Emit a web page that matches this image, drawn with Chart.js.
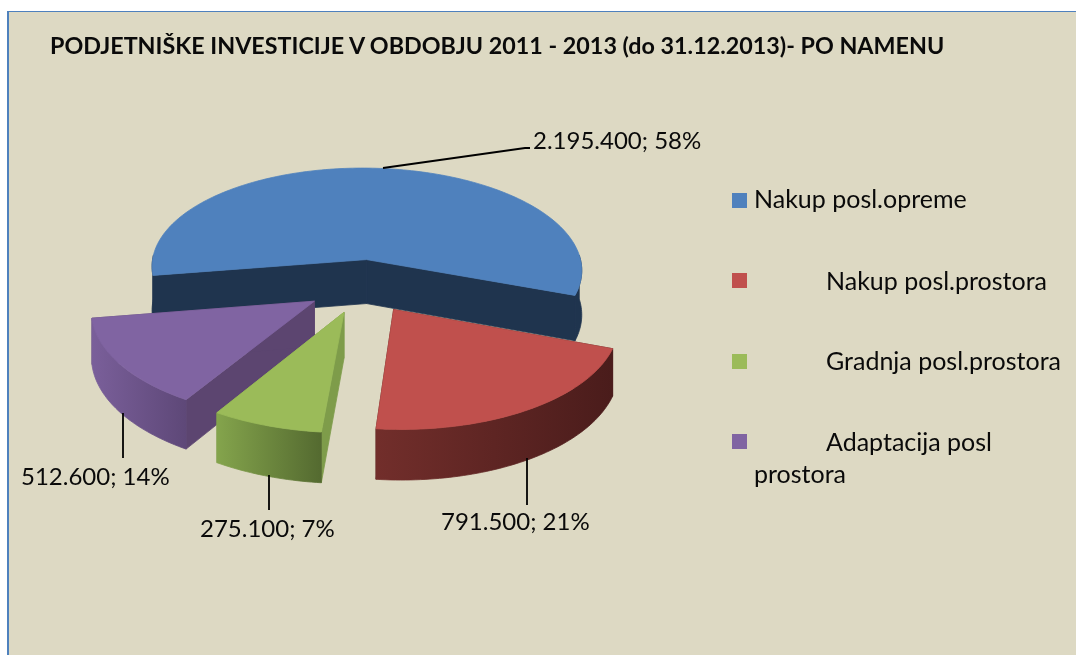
<!DOCTYPE html>
<html>
<head>
<meta charset="utf-8">
<title>Podjetniške investicije</title>
<script src="https://cdn.jsdelivr.net/npm/chart.js@4"></script>
<style>
    html, body { margin: 0; padding: 0; background: #fff; overflow: hidden; }
    #frame {
        position: absolute; left: 7px; top: 11px; width: 1069px; height: 644px;
        background: #DDD9C3; border-top: 1px solid #4F81BD; border-left: 2px solid #4F81BD;
        box-sizing: border-box;
    }
    canvas { position: absolute; left: 0; top: 0; }
    .txt { position: absolute; white-space: nowrap; color: #0a0a0a; font-family: Lato, sans-serif; line-height: 1; }
    #title { left: 50px; top: 34px; font-size: 23.3px; font-weight: 700; }
    .leg { font-size: 25px; }
    .swatch { position: absolute; width: 15px; height: 15px; }
</style>
</head>
<body>
<div id="frame"></div>
<canvas id="pie" width="1076" height="655"></canvas>
<div id="title" class="txt">PODJETNIŠKE INVESTICIJE V OBDOBJU 2011 - 2013 (do 31.12.2013)- PO NAMENU</div>
<div id="legend"></div>
<script>
// Chart data
const categories = ['Nakup posl.opreme', 'Nakup posl.prostora', 'Gradnja posl.prostora', 'Adaptacija posl prostora'];
const values = [2195400, 791500, 275100, 512600];

// Colours for top, side walls and the rim gradient (left to right)
const topColors = ['#4F81BD', '#C0504D', '#9BBB59', '#8064A2'];
const wallColors = ['#1F344E', '#4A1C1B', '#7E9C4A', '#5C4570'];
const rimColors = [['#1F344E', '#1F344E'], ['#722E2B', '#4A1C1B'], ['#84A44C', '#546A30'], ['#7A5F9A', '#5E4878']];

// Projection of the flat pie to the tilted view
const tilt = 0.4767;
const perspective = 0.091;
const skew = 0.018;
const depth = 45;

// Where the label text and its leader line sit
const labelSpots = [
    { x: 533, y: 141, line: [[383, 168], [525, 148], [530, 148]] },
    { x: 441, y: 522, line: [[527, 458], [527, 505]] },
    { x: 200, y: 529, line: [[269, 475], [269, 510]] },
    { x: 21, y: 477, line: [[123, 413], [123, 458]] }
];

// Legend rows: swatch y, text x, text y
const legendRows = [
    { box: 193, x: 754, y: 186 },
    { box: 273, x: 826, y: 268 },
    { box: 354, x: 826, y: 348 },
    { box: 434, x: 826, y: 429, wrapX: 754, wrapY: 461 }
];

function formatValue(v) {
    return String(v).replace(/\B(?=(\d{3})+(?!\d))/g, '.');
}

function labelText(i) {
    const total = values.reduce((a, b) => a + b, 0);
    return formatValue(values[i]) + '; ' + Math.round(values[i] / total * 100) + '%';
}

function drawPoly(ctx, pts, fill) {
    ctx.beginPath();
    pts.forEach((p, i) => i ? ctx.lineTo(p.x, p.y) : ctx.moveTo(p.x, p.y));
    ctx.closePath();
    ctx.fillStyle = fill;
    ctx.fill();
    ctx.strokeStyle = fill;
    ctx.lineWidth = 0.8;
    ctx.stroke();
}

// Draw one pie slice as a solid wedge, from the geometry Chart.js gave the arc
function drawSlice(ctx, arc, i) {
    const { x, y, startAngle, endAngle, outerRadius } = arc.getProps(['x', 'y', 'startAngle', 'endAngle', 'outerRadius'], true);
    const mid = (startAngle + endAngle) / 2;
    const off = arc.options.offset;

    const project = (t, r, down) => {
        const u = off * Math.cos(mid) + r * Math.cos(t);
        const v = off * Math.sin(mid) + r * Math.sin(t);
        const w = 1 - perspective * v / outerRadius;
        return { x: x + (u + skew * v) / w, y: y + tilt * v / w + (down ? depth / w : 0) };
    };

    const steps = Math.ceil((endAngle - startAngle) / 0.02);
    const angles = [];
    for (let s = 0; s <= steps; s++) angles.push(startAngle + (endAngle - startAngle) * s / steps);

    // radial walls first, the top covers the ones facing away
    [startAngle, endAngle].forEach(t => {
        drawPoly(ctx, [project(t, 0), project(t, outerRadius), project(t, outerRadius, true), project(t, 0, true)], wallColors[i]);
    });

    // rim, only the runs that face the viewer
    let run = [];
    const flush = () => {
        if (run.length > 1) {
            const pts = run.map(t => project(t, outerRadius)).concat(run.slice().reverse().map(t => project(t, outerRadius, true)));
            const xs = pts.map(p => p.x);
            const g = ctx.createLinearGradient(Math.min(...xs), 0, Math.max(...xs), 0);
            g.addColorStop(0, rimColors[i][0]);
            g.addColorStop(1, rimColors[i][1]);
            drawPoly(ctx, pts, g);
        }
        run = [];
    };
    angles.forEach(t => {
        if (Math.sin(t) > -0.05) run.push(t); else flush();
    });
    flush();

    // top face
    drawPoly(ctx, [project(0, 0)].concat(angles.map(t => project(t, outerRadius))), topColors[i]);
}

const wedgePlugin = {
    id: 'wedges',
    beforeDatasetsDraw(chart) {
        const ctx = chart.ctx;
        const arcs = chart.getDatasetMeta(0).data;
        ctx.save();
        // back to front
        [0, 3, 2, 1].forEach(i => drawSlice(ctx, arcs[i], i));
        ctx.restore();
        return false;
    },
    afterDraw(chart) {
        const ctx = chart.ctx;
        ctx.save();
        ctx.strokeStyle = '#000';
        ctx.lineWidth = 1.8;
        ctx.fillStyle = '#0a0a0a';
        ctx.font = '24px Lato, sans-serif';
        ctx.textBaseline = 'middle';
        labelSpots.forEach((spot, i) => {
            ctx.beginPath();
            spot.line.forEach((p, n) => n ? ctx.lineTo(p[0], p[1]) : ctx.moveTo(p[0], p[1]));
            ctx.stroke();
            ctx.fillText(labelText(i), spot.x, spot.y);
        });
        ctx.restore();
    }
};

function buildLegend() {
    const box = document.getElementById('legend');
    categories.forEach((name, i) => {
        const row = legendRows[i];
        const sw = document.createElement('div');
        sw.className = 'swatch';
        sw.style.cssText = `left:732px;top:${row.box}px;background:${topColors[i]}`;
        box.appendChild(sw);
        const addText = (t, x, y) => {
            const el = document.createElement('div');
            el.className = 'txt leg';
            el.style.left = x + 'px';
            el.style.top = y + 'px';
            el.textContent = t;
            box.appendChild(el);
        };
        if (row.wrapX) {
            const cut = name.lastIndexOf(' ');
            addText(name.slice(0, cut), row.x, row.y);
            addText(name.slice(cut + 1), row.wrapX, row.wrapY);
        } else {
            addText(name, row.x, row.y);
        }
    });
}

buildLegend();

new Chart(document.getElementById('pie').getContext('2d'), {
    type: 'pie',
    data: {
        labels: categories,
        datasets: [{ data: values, backgroundColor: topColors, borderWidth: 0, offset: 57 }]
    },
    options: {
        responsive: false,
        animation: false,
        events: [],
        radius: 219,
        rotation: 261,
        layout: { padding: { right: 352, bottom: 83 } },
        plugins: { legend: { display: false }, tooltip: { enabled: false } }
    },
    plugins: [wedgePlugin]
});
</script>
</body>
</html>
